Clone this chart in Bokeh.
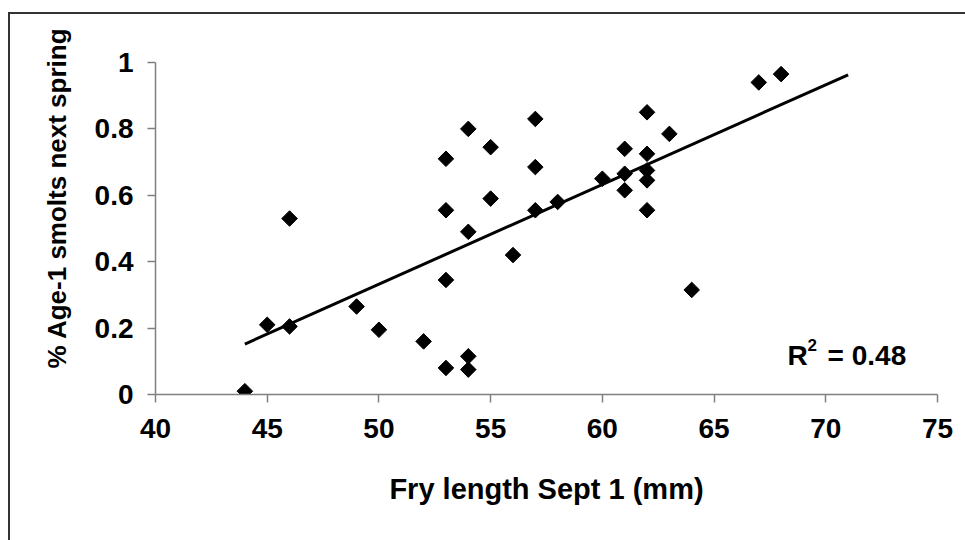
import numpy as np
from bokeh.plotting import figure
from bokeh.models import Label, Range1d, FixedTicker, Title
from bokeh.embed import file_html
from bokeh.resources import INLINE

# Data
fry_length = [44, 45, 46, 46, 49, 50, 52, 53, 53, 53, 53, 54, 54, 54, 54, 55, 55, 56,
              57, 57, 57, 58, 60, 61, 61, 61, 62, 62, 62, 62, 62, 63, 64, 67, 68]
age1_smolts = [0.01, 0.21, 0.205, 0.53, 0.265, 0.195, 0.16, 0.08, 0.345, 0.555, 0.71,
               0.80, 0.49, 0.115, 0.075, 0.745, 0.59, 0.42, 0.83, 0.685, 0.555, 0.58,
               0.65, 0.74, 0.665, 0.615, 0.85, 0.725, 0.675, 0.645, 0.555, 0.785, 0.315,
               0.94, 0.965]
trend_x = [44, 71]
trend_y = [0.152, 0.963]
x_ticks = [40, 45, 50, 55, 60, 65, 70, 75]
y_ticks = [0, 0.2, 0.4, 0.6, 0.8, 1.0]
r2_value = "0.48"

FONT = "Liberation Sans"

p = figure(width=957, height=528, output_backend="svg", toolbar_location=None,
           x_range=Range1d(40, 75), y_range=Range1d(0, 1),
           min_border_left=145, min_border_right=30, min_border_top=48,
           min_border_bottom=148)
p.margin = (12, 0, 0, 8)
p.styles = {"border-top": "2px solid #333333", "border-left": "2px solid #333333"}
p.outline_line_color = None
p.background_fill_color = "white"
p.border_fill_color = "white"
p.grid.visible = False

for ax in (p.xaxis[0], p.yaxis[0]):
    ax.axis_line_color = "#808080"
    ax.axis_line_width = 1.5
    ax.major_tick_line_color = "#808080"
    ax.major_tick_line_width = 1.5
    ax.major_tick_out = 8
    ax.major_tick_in = 0
    ax.minor_tick_line_color = None
    ax.major_label_text_font = FONT
    ax.major_label_text_font_style = "bold"
    ax.major_label_text_font_size = "28px"
    ax.major_label_text_color = "black"

p.xaxis.ticker = FixedTicker(ticks=x_ticks)
p.yaxis.ticker = FixedTicker(ticks=y_ticks)
p.yaxis.major_label_overrides = {0: "0", 0.2: "0.2", 0.4: "0.4", 0.6: "0.6", 0.8: "0.8", 1.0: "1"}
p.xaxis.major_label_standoff = 16
p.yaxis.major_label_standoff = 14

p.xaxis.axis_label = "Fry length Sept 1 (mm)"
p.xaxis.axis_label_text_font = FONT
p.xaxis.axis_label_text_font_style = "bold"
p.xaxis.axis_label_text_font_size = "29px"
p.xaxis.axis_label_standoff = 32
p.xaxis.axis_label_text_color = "black"

# y axis title (shifted upward like the reference)
p.add_layout(Title(text="% Age-1 smolts next spring", align="right", offset=-35,
                   standoff=40, text_font=FONT, text_font_style="bold",
                   text_font_size="26px", text_color="black"), "left")

p.line(trend_x, trend_y, line_color="black", line_width=3)
p.scatter(fry_length, age1_smolts, marker="square", angle=np.pi / 4, size=11,
          fill_color="black", line_color="black")

# R^2 annotation
rx, ry = 68.29, 0.117
p.add_layout(Label(x=rx, y=ry, text="R", text_font=FONT, text_font_style="bold",
                   text_font_size="28px", text_baseline="alphabetic", text_color="black"))
p.add_layout(Label(x=rx, y=ry, x_offset=20, y_offset=11, text="2", text_font=FONT,
                   text_font_style="bold", text_font_size="17px",
                   text_baseline="alphabetic", text_color="black"))
p.add_layout(Label(x=rx, y=ry, x_offset=40, text="= " + r2_value, text_font=FONT,
                   text_font_style="bold", text_font_size="28px",
                   text_baseline="alphabetic", text_color="black"))

open("out.html", "w").write(file_html(p, INLINE))
